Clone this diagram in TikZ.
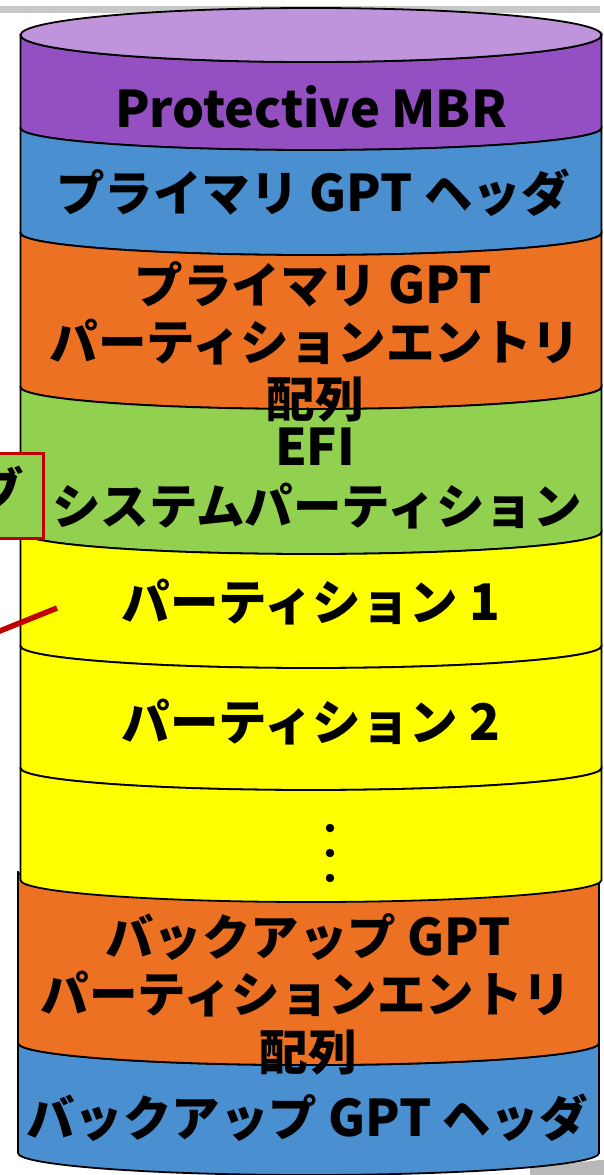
\documentclass[tikz,border=0pt]{standalone}
\usepackage{fontspec}
\setmainfont{Noto Sans CJK JP}
\definecolor{mbrlight}{HTML}{BF94DD}
\definecolor{mbrpurple}{HTML}{9450C3}
\definecolor{hdrblue}{HTML}{4A8FD0}
\definecolor{entorange}{HTML}{ED7123}
\definecolor{efigreen}{HTML}{92D050}
\definecolor{partyellow}{HTML}{FFFF00}
\definecolor{tagred}{HTML}{C00000}
\definecolor{stripgray}{HTML}{C8C8C8}
\tikzset{
    seg/.style={draw=black, line width=1.8bp},
    lbl/.style={font=\fontsize{48.5bp}{57bp}\selectfont\bfseries, inner sep=0pt, anchor=base},
    tagbox/.style={draw=tagred, fill=efigreen, line width=3bp},
    tagline/.style={draw=tagred, line width=5.5bp},
}
% latin words are a little larger than the kana
\newcommand{\en}[1]{{\fontsize{50.5bp}{57bp}\selectfont #1}}
\newcommand{\lowarc}{arc[start angle=180, end angle=0, x radius=290.5, y radius=22]}
\newcommand{\backarc}{arc[start angle=0, end angle=180, x radius=290.5, y radius=22]}
\newcommand{\backtop}{arc[start angle=0, end angle=180, x radius=290.5, y radius=27]}
\begin{document}
\begin{tikzpicture}[x=1bp, y=1bp, yscale=-1]
        \useasboundingbox (0,0) rectangle (604,1175);
        \clip (0,0) rectangle (604,1175);

        % strip on top and the grey thing at the lower right
        \fill[stripgray] (0,6) rectangle (600,12.5);
        \fill[gray!55] (530,1175) -- (530,1168) -- (600,1160) -- (604,1160) -- (604,1175) -- cycle;

        % backup part (a bit shifted to the left)
        \filldraw[seg, fill=hdrblue] (18,1043) -- (18,1153) \lowarc -- (599,1043) \backarc -- cycle;
        \filldraw[seg, fill=entorange] (18,872) -- (18,1043) \lowarc -- (599,872) \backarc -- cycle;

        % main cylinder
        \filldraw[seg, fill=mbrpurple] (20.5,35) -- (20.5,128) \lowarc -- (601.5,35) \backtop -- cycle;
        \filldraw[seg, fill=mbrlight] (311,35) ellipse [x radius=290.5, y radius=27];
        \filldraw[seg, fill=hdrblue] (20.5,128) -- (20.5,233) \lowarc -- (601.5,128) \backarc -- cycle;
        \filldraw[seg, fill=entorange] (20.5,233) -- (20.5,387) \lowarc -- (601.5,233) \backarc -- cycle;
        \filldraw[seg, fill=efigreen] (20.5,387) -- (20.5,532) \lowarc -- (601.5,387) \backarc -- cycle;
        \filldraw[seg, fill=partyellow] (20.5,532) -- (20.5,646) \lowarc -- (601.5,532) \backarc -- cycle;
        \filldraw[seg, fill=partyellow] (20.5,646) -- (20.5,768) \lowarc -- (601.5,646) \backarc -- cycle;
        \filldraw[seg, fill=partyellow] (20.5,768) -- (20.5,880) \lowarc -- (601.5,768) \backarc -- cycle;

        \node[lbl] (mbr) at (311,127) {\en{Protective MBR}};
        \node[lbl] (phdr) at (313,211) {プライマリ \en{GPT} ヘッダ};
        \node[lbl] (pent1) at (313,303) {プライマリ \en{GPT}};
        \node[lbl] (pent2) at (315,360) {パーティションエントリ};
        \node[lbl] (pent3) at (315,417) {配列};
        \node[lbl] (efi1) at (315,465) {\en{EFI}};
        \node[lbl] (efi2) at (317,524) {システムパーティション};
        \node[lbl] (part1) at (311,620) {パーティション \en{1}};
        \node[lbl] (part2) at (311,740) {パーティション \en{2}};
        \filldraw[black] (330,828) circle (4);
        \filldraw[black] (330,853) circle (4);
        \filldraw[black] (330,878) circle (4);
        \node[lbl] (bent1) at (308,955) {バックアップ \en{GPT}};
        \node[lbl] (bent2) at (306,1012) {パーティションエントリ};
        \node[lbl] (bent3) at (308,1070) {配列};
        \node[lbl] (bhdr) at (307,1136) {バックアップ \en{GPT} ヘッダ};

        % label box cut off at the left, with its red line
        \filldraw[tagbox] (-20,453) rectangle (43,538);
        \node[lbl, anchor=base east] (tag) at (24,508) {ブ};
        \coordinate (lnk) at (-30,643);
        \coordinate (lnkend) at (57,608);
        \draw[tagline] (lnk) -- (lnkend);
    \end{tikzpicture}
\end{document}
